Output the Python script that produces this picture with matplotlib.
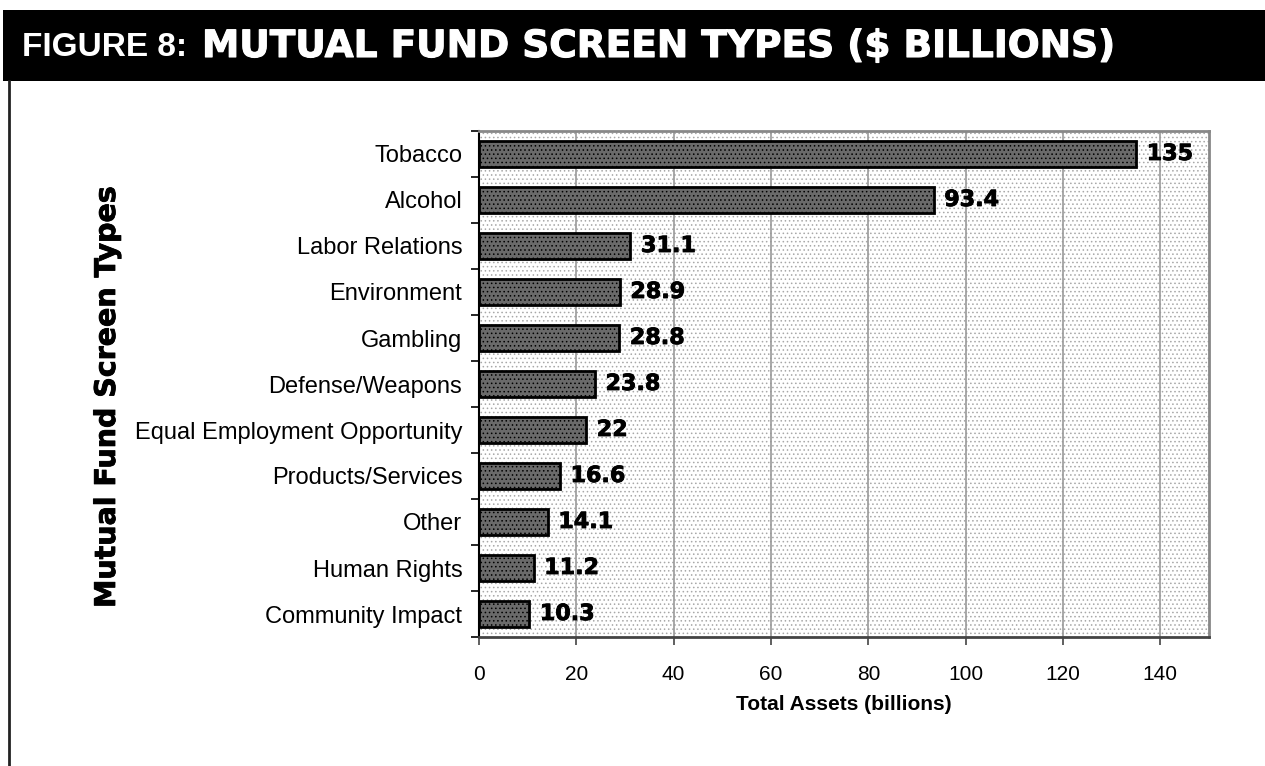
import matplotlib
matplotlib.use("Agg")
import matplotlib.pyplot as plt
from matplotlib.patches import Rectangle
import matplotlib.patheffects as pe
import numpy as np

categories = ["Tobacco", "Alcohol", "Labor Relations", "Environment", "Gambling",
              "Defense/Weapons", "Equal Employment Opportunity", "Products/Services",
              "Other", "Human Rights", "Community Impact"]
values = [135, 93.4, 31.1, 28.9, 28.8, 23.8, 22, 16.6, 14.1, 11.2, 10.3]
value_labels = ["135", "93.4", "31.1", "28.9", "28.8", "23.8", "22", "16.6", "14.1", "11.2", "10.3"]
xticks = [0, 20, 40, 60, 80, 100, 120, 140]

plt.rcParams['hatch.linewidth'] = 0.6
W, H = 1265, 766
fig = plt.figure(figsize=(W / 100, H / 100), dpi=100)
fig.patch.set_facecolor("white")

# title banner
banner = Rectangle((3 / W, 1 - 81 / H), 1 - 3 / W, 71 / H, transform=fig.transFigure,
                   facecolor="black", edgecolor="none", zorder=0)
fig.patches.append(banner)
fig.add_artist(plt.Line2D([9 / W, 9 / W], [0, 1 - 81 / H], transform=fig.transFigure,
                          color="#222222", lw=2))
fig.text(22 / W, 1 - 48 / H, "FIGURE 8:", color="white", fontsize=24, fontweight="bold",
         family="Liberation Sans", va="center", ha="left")
fig.text(202 / W, 1 - 47 / H, "MUTUAL FUND SCREEN TYPES ($ BILLIONS)", color="white",
         fontsize=27, fontweight="bold", family="DejaVu Sans", va="center", ha="left",
         path_effects=[pe.withStroke(linewidth=0.8, foreground="white")])

ax = fig.add_axes([479 / W, 1 - 637 / H, 730 / W, 506 / H])
ax.set_facecolor("white")
bg = Rectangle((0, 0), 1, 1, transform=ax.transAxes, facecolor="white",
               edgecolor="#a8a8a8", hatch="....", lw=0, zorder=0)
ax.add_patch(bg)

y = np.arange(len(categories))
ax.barh(y, values, height=0.55, color="#6a6a6a", edgecolor="black", linewidth=2,
        hatch="....", zorder=3)
for yi, v, lab in zip(y, values, value_labels):
    ax.text(v + 2.2, yi, lab, va="center", ha="left", fontsize=16, fontweight="bold",
            family="DejaVu Sans", zorder=4,
            path_effects=[pe.withStroke(linewidth=0.6, foreground="black")])

ax.set_ylim(len(categories) - 0.5, -0.5)
ax.set_xlim(0, 150)
ax.set_xticks(xticks)
ax.set_xticklabels([str(t) for t in xticks], fontsize=15, family="Liberation Sans")
ax.set_yticks(y)
ax.set_yticklabels(categories, fontsize=17, family="Liberation Sans")
ax.tick_params(axis="y", length=0, pad=12)
ax.set_yticks(np.arange(len(categories) + 1) - 0.5, minor=True)
ax.tick_params(axis="y", which="minor", length=6, width=1.2, color="black")
ax.tick_params(axis="x", length=6, width=1.2, color="#444444", pad=14)
ax.grid(axis="x", color="#999999", lw=1.2, zorder=1)
ax.set_axisbelow(True)
ax.spines["left"].set_color("black")
ax.spines["left"].set_linewidth(1.5)
ax.spines["bottom"].set_color("#444444")
ax.spines["bottom"].set_linewidth(2)
for s in ("top", "right"):
    ax.spines[s].set_color("#888888")
    ax.spines[s].set_linewidth(2)

ax.set_xlabel("Total Assets (billions)", fontsize=15, fontweight="bold",
              family="Liberation Sans", labelpad=8)
fig.text(107 / W, 1 - 397 / H, "Mutual Fund Screen Types", rotation=90, fontsize=20.5,
         fontweight="bold", family="DejaVu Sans", va="center", ha="center",
         path_effects=[pe.withStroke(linewidth=0.6, foreground="black")])

fig.savefig("out.png", dpi=100)
